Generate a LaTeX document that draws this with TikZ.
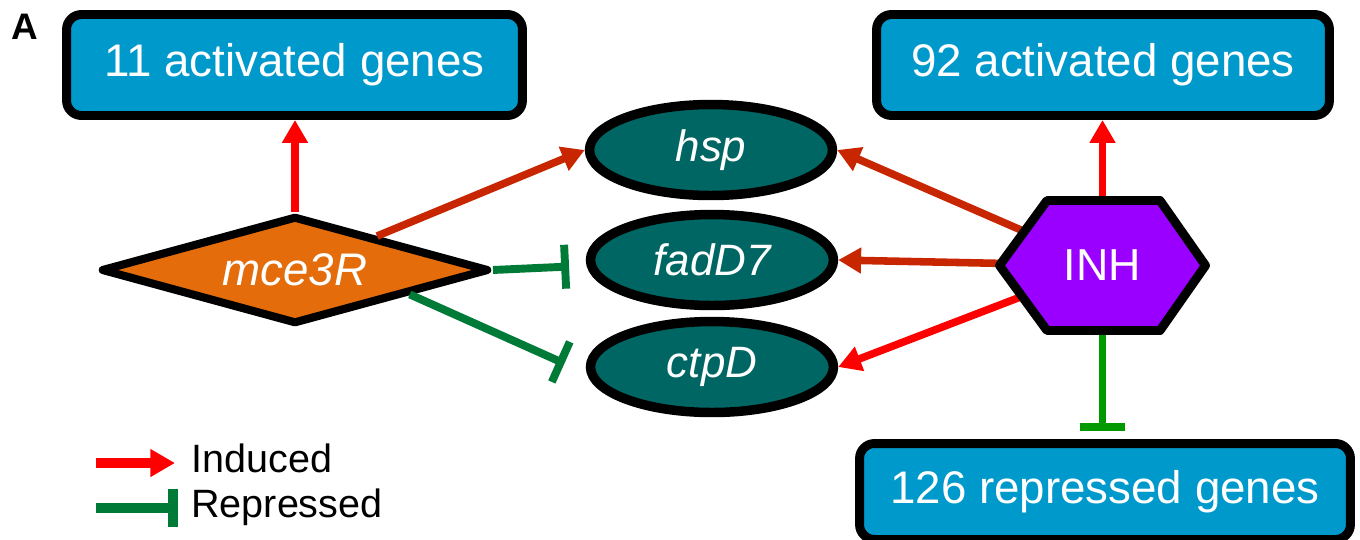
\documentclass[tikz,border=0pt]{standalone}
\usepackage{fontspec}
\setmainfont{Liberation Sans}
\usetikzlibrary{shapes.geometric,arrows.meta,backgrounds}
\definecolor{boxblue}{RGB}{0,153,204}
\definecolor{orangec}{RGB}{228,108,10}
\definecolor{tealc}{RGB}{0,102,100}
\definecolor{purplec}{RGB}{153,0,255}
\definecolor{redc}{RGB}{255,0,0}
\definecolor{darkredc}{RGB}{200,38,0}
\definecolor{greenA}{RGB}{0,122,55}
\definecolor{greenB}{RGB}{0,153,0}
\begin{document}
\begin{tikzpicture}[x=0.02cm,y=-0.02cm,
  gbox/.style={draw=black, line width=5.1pt, fill=boxblue, rounded corners=0.3cm,
    text=white, font=\fontsize{26}{30}\selectfont, inner sep=0pt},
  gene/.style={ellipse, draw=black, line width=5.4pt, fill=tealc,
    minimum width=4.86cm, minimum height=1.82cm, inner sep=0pt,
    text=white, font=\fontsize{25}{28}\selectfont\itshape},
  ind/.style={line width=4.3pt, draw=redc, -{Triangle[length=13pt,width=14pt]}},
  rep/.style={line width=4.5pt, draw=greenA, -{Bar[width=25pt]}},
  legtext/.style={anchor=base west, inner sep=0pt, font=\fontsize{22.5}{26}\selectfont}]
\clip (0,0) rectangle (1360,539);

% nodes
\node[gbox, minimum width=9.12cm, minimum height=2.02cm] (b11) at (294.5,65) {11 activated genes};
\node[gbox, minimum width=9.06cm, minimum height=2.02cm] (b92) at (1103,65) {92 activated genes};
\node[gbox, minimum width=9.82cm, minimum height=1.92cm] (b126) at (1105,491.5) {126 repressed genes};

\node[diamond, aspect=3.6, draw=black, line width=4.6pt, line join=round, fill=orangec,
  minimum width=7.76cm, minimum height=2.16cm, inner sep=0pt,
  text=white, font=\fontsize{26}{28}\selectfont\itshape] (m) at (295,270) {mce3R};

\node[gene] (hsp) at (711,150) {hsp};
\node[gene] (fad) at (712,260) {fadD7};
\node[gene] (ctp) at (712,367) {ctpD};

\draw[line width=5.1pt, line join=round, fill=purplec]
  (999.5,265.5) -- (1047,200.5) -- (1160,200.5) -- (1205.5,265.5) -- (1160,330.5) -- (1047,330.5) -- cycle;
\node[text=white, font=\fontsize{25.5}{28}\selectfont] (inh) at (1102.5,265.5) {INH};

\node[anchor=base west, inner sep=0pt, font=\bfseries\fontsize{21}{24}\selectfont] (lab) at (11,39) {A};

% background and INH connectors (behind the hexagon)
\begin{scope}[on background layer]
\fill[white] (0,0) rectangle (1360,539);
\draw[ind, draw=darkredc] (inh.center) -- (hsp.east);
\draw[ind, draw=darkredc] (inh.center) -- (fad.east);
\draw[ind] (inh.center) -- (ctp.east);
\draw[ind] (inh.center) -- (inh.center |- b92.south);
\draw[rep, draw=greenB, -{Bar[width=26pt]}, shorten >=4.5pt] (inh.center) -- (inh.center |- b126.north);
\end{scope}

% mce3R connectors
\draw[ind] (m.north) -- (m.north |- b11.south);
\draw[ind, draw=darkredc] (m) -- (hsp.west);
\draw[rep, shorten >=10pt] (m.east) -- (fad);
\draw[rep, shorten >=14pt] (m.-12) -- (ctp.183);

% legend
\coordinate (la) at (96,463);
\coordinate (lb) at (175,463);
\draw[ind, line width=5.5pt, -{Triangle[length=14pt,width=15pt]}] (la) -- (lb);
\node[legtext] (lind) at (191,472) {Induced};
\coordinate (lc) at (96,508);
\coordinate (ld) at (178,508);
\draw[rep, line width=5.5pt, -{Bar[width=21.5pt]}] (lc) -- (ld);
\node[legtext] (lrep) at (191,517) {Repressed};
\end{tikzpicture}
\end{document}
